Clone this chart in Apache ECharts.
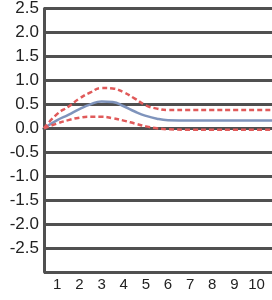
<!DOCTYPE html>
<html>
<head>
<meta charset="utf-8">
<script src="https://cdn.jsdelivr.net/npm/echarts@6/dist/echarts.min.js"></script>
<style>
  html, body { margin: 0; padding: 0; background: #fff; }
  #main { width: 272px; height: 300px; }
</style>
</head>
<body>
<div id="main"></div>
<script>
// 横轴位置（期数），第一点在坐标区左边缘
var steps = [0.4, 1, 1.5, 2, 2.5, 3, 3.5, 4, 4.5, 5, 5.5, 6, 7, 8, 9, 10, 10.7];
// 中间的响应线
var response = [0, 0.17, 0.28, 0.40, 0.50, 0.56, 0.55, 0.46, 0.35, 0.26, 0.20, 0.17, 0.16, 0.16, 0.16, 0.16, 0.16];
// 上下置信带
var upperBand = [0, 0.30, 0.45, 0.62, 0.75, 0.84, 0.83, 0.75, 0.62, 0.48, 0.41, 0.38, 0.38, 0.38, 0.38, 0.38, 0.38];
var lowerBand = [0, 0.10, 0.17, 0.22, 0.24, 0.24, 0.21, 0.16, 0.10, 0.04, 0.00, -0.02, -0.03, -0.03, -0.03, -0.03, -0.03];
// 横轴刻度标签
var xTicks = [1, 2, 3, 4, 5, 6, 7, 8, 9, 10];

function pairs(ys) {
  return steps.map(function (x, i) { return [x, ys[i]]; });
}

var chart = echarts.init(document.getElementById('main'));

var option = {
  animation: false,
  grid: { left: 44, right: 0, top: 6, bottom: 28 },
  xAxis: {
    type: 'value',
    min: 0.4,
    max: 10.7,
    axisLine: { show: true, lineStyle: { color: '#505050', width: 3 } },
    axisTick: { show: false },
    splitLine: { show: false },
    axisLabel: {
      customValues: xTicks,
      color: '#222',
      fontSize: 15,
      fontFamily: 'Liberation Sans, Arial, sans-serif',
      margin: 5
    }
  },
  yAxis: {
    type: 'value',
    min: -3,
    max: 2.5,
    interval: 0.5,
    axisLine: { show: true, lineStyle: { color: '#505050', width: 3 } },
    axisTick: { show: false },
    splitLine: { show: true, lineStyle: { color: '#505050', width: 3 } },
    axisLabel: {
      color: '#222',
      fontSize: 17,
      fontFamily: 'Liberation Sans, Arial, sans-serif',
      margin: 5,
      formatter: function (v) {
        if (v <= -3) return '';
        return v.toFixed(1);
      }
    }
  },
  series: [
    {
      name: 'response',
      type: 'line',
      smooth: true,
      symbol: 'none',
      data: pairs(response),
      lineStyle: { color: '#7f94bc', width: 2.5 }
    },
    {
      name: 'upper',
      type: 'line',
      smooth: true,
      symbol: 'none',
      data: pairs(upperBand),
      lineStyle: { color: '#e05a5a', width: 2.5, type: [5, 3] }
    },
    {
      name: 'lower',
      type: 'line',
      smooth: true,
      symbol: 'none',
      data: pairs(lowerBand),
      lineStyle: { color: '#e05a5a', width: 2.5, type: [5, 3] }
    }
  ]
};

chart.setOption(option);
</script>
</body>
</html>
